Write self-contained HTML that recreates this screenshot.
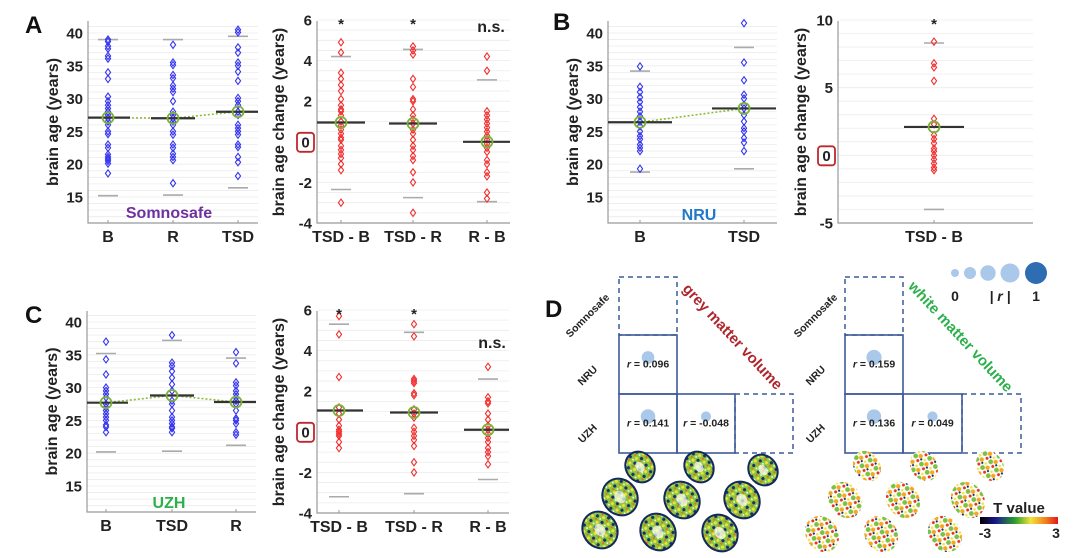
<!DOCTYPE html>
<html><head><meta charset="utf-8"><style>
body{margin:0;background:#fff;width:1080px;height:558px;overflow:hidden}
svg{display:block}
text{font-family:"Liberation Sans",Arial,sans-serif}
</style></head><body>
<svg id="fig" width="1080" height="558" viewBox="0 0 1080 558" xmlns="http://www.w3.org/2000/svg">
<defs>
<pattern id="gmPat" width="8" height="8" patternUnits="userSpaceOnUse">
<rect width="8" height="8" fill="#8cc63f"/>
<circle cx="2" cy="2" r="1.5" fill="#f2e33a"/><circle cx="6" cy="5" r="1.6" fill="#1a2f6e"/>
<circle cx="3" cy="6.5" r="1.1" fill="#e86a1c"/><circle cx="6.5" cy="1" r="0.9" fill="#ffffff"/>
</pattern>
<pattern id="wmPat" width="10" height="10" patternUnits="userSpaceOnUse">
<rect width="10" height="10" fill="#ffffff"/>
<circle cx="3" cy="3" r="2.4" fill="#7cc242"/><circle cx="7" cy="6" r="2.2" fill="#f5a623"/>
<circle cx="2" cy="8" r="1.5" fill="#e8331c"/><circle cx="8" cy="1.5" r="1.3" fill="#f2e33a"/>
<circle cx="5.5" cy="9" r="1.1" fill="#16306b"/>
</pattern>
<linearGradient id="tGrad" x1="0" x2="1" y1="0" y2="0">
<stop offset="0" stop-color="#000"/><stop offset="0.2" stop-color="#1a1a8c"/><stop offset="0.45" stop-color="#2ca02c"/>
<stop offset="0.65" stop-color="#f2e33a"/><stop offset="0.85" stop-color="#f07c1c"/><stop offset="1" stop-color="#e8141c"/>
</linearGradient>
</defs>
<g id="plots"></g>
<g id="panelD"></g>
</svg>
<script>
// ---------- DATA ----------
const catsA1 = ["B","R","TSD"];
const valsA1 = [
 [39,38.7,38,37.6,36.5,36.1,34,33,30.3,29.6,29,28.5,28,27.5,27,26.5,26,25,24.6,23,22.5,21.5,21.1,20.8,20.5,20.1,18.6],
 [38.2,35.5,35.1,33.6,33.1,32,31.5,31,29.6,28,27.5,27,26.5,26,25,24.5,23,22.5,21.6,21.1,20.6,17.1],
 [40.5,40.1,37.8,37,35.5,35,34.1,32.7,30.1,29.6,29,28,27.5,26,25.5,25,24.5,23,22.6,21.1,20.3,18.2]];
const meansA1 = [27.1,27.0,28.0];
const upperA1 = [39,39,39.5];
const lowerA1 = [15.2,15.3,16.4];

const catsA2 = ["TSD - B","TSD - R","R - B"];
const valsA2 = [
 [4.9,4.4,3.4,3.1,2.8,2.5,2.1,1.8,1.6,1.5,1.3,1.0,0.8,0.6,0.4,0.2,0.1,-0.2,-0.4,-0.6,-0.8,-1.1,-1.4,-3.0],
 [4.7,4.5,4.3,3.1,2.7,2.1,2.0,1.6,1.3,1.1,0.9,0.6,0.4,0.1,-0.2,-0.4,-0.7,-0.9,-1.5,-2.0,-3.5],
 [4.2,3.5,1.5,1.3,1.1,0.9,0.7,0.5,0.3,0.1,-0.1,-0.3,-0.5,-0.9,-1.1,-1.5,-1.7,-2.5,-2.8]];
const meansA2 = [0.95,0.9,0.0];
const upperA2 = [4.2,4.55,3.05];
const lowerA2 = [-2.35,-2.75,-2.95];
const sigA2 = ["*","*","n.s."];

const catsB1 = ["B","TSD"];
const valsB1 = [
 [34.9,31.8,31,30.2,29.5,28.7,28,27.3,26.5,25.8,25,24.3,23.8,23,22.5,22,19.3],
 [41.5,35.5,32.8,30.6,30,29,28.5,27.5,26.5,25.5,25,24,23.3,22]];
const meansB1 = [26.4,28.5];
const upperB1 = [34.2,37.8];
const lowerB1 = [18.8,19.3];

const catsB2 = ["TSD - B"];
const valsB2 = [[8.4,6.8,6.5,5.5,2.7,2.3,1.5,1.2,0.9,0.5,0.3,0,-0.3,-0.6,-0.9,-1.1]];
const meansB2 = [2.1];
const upperB2 = [8.3];
const lowerB2 = [-4.0];
const sigB2 = ["*"];

const catsC1 = ["B","TSD","R"];
const valsC1 = [
 [37,34.3,32,30,29.5,29,28.5,27.5,27,26.5,26,25.5,25,24.3,24,23.2],
 [38,33.8,33.3,32.5,31.5,30.5,29.5,28,27.5,26.5,25.5,25,24.5,24,23.8,23.2],
 [35.4,33.7,30.8,30.3,29.5,29,28.5,28,27.5,26.5,25.3,25,24.5,23.2,22.8]];
const meansC1 = [27.7,28.8,27.8];
const upperC1 = [35.2,37.2,34.5];
const lowerC1 = [20.2,20.3,21.2];

const catsC2 = ["TSD - B","TSD - R","R - B"];
const valsC2 = [
 [5.7,4.8,2.7,1.2,0.9,0.6,0.3,0.1,0,-0.1,-0.2,-0.5,-0.8],
 [5.3,4.7,2.6,2.5,2.4,1.9,1.8,1.1,0.9,0.7,0.2,0,-0.2,-0.4,-0.7,-1.5,-2.0],
 [3.2,1.7,1.5,1.4,0.9,0.6,0.3,0.1,-0.1,-0.3,-0.5,-0.8,-1.0,-1.2,-1.6]];
const meansC2 = [1.05,0.95,0.1];
const upperC2 = [5.3,4.9,2.6];
const lowerC2 = [-3.2,-3.05,-2.35];
const sigC2 = ["*","*","n.s."];

const corrLabels = ["Somnosafe","NRU","UZH"];
const gmCorr = [0.096,0.141,-0.048];
const wmCorr = [0.159,0.136,0.049];
const legendR = [0.05,0.2,0.4,0.7,1];

// ---------- HELPERS ----------
const NS="http://www.w3.org/2000/svg";
function mk(tag,attrs,parent){const e=document.createElementNS(NS,tag);for(const k in attrs)e.setAttribute(k,attrs[k]);parent.appendChild(e);return e;}
function txt(str,attrs,parent){const e=mk("text",attrs,parent);e.textContent=str;return e;}
const root=document.getElementById("plots");

function panel(cfg){
  const g=mk("g",{},root);
  
  
  const y=v=>cfg.y0px+(v-cfg.v0)*(cfg.y1px-cfg.y0px)/(cfg.v1-cfg.v0);
  const x=i=>cfg.catX[i];
  for(let v=cfg.gmin; v<=cfg.gmax+1e-9; v+=cfg.gstep){
    mk("line",{x1:cfg.L,x2:cfg.R,y1:y(v),y2:y(v),stroke:"#ececec","stroke-width":0.8},g);
  }
  const ax=mk("path",{d:`M${cfg.L},${cfg.T}V${cfg.B}H${cfg.R}`,fill:"none",stroke:"#999","stroke-width":1.2},g);
  
  
  cfg.ticks.forEach(t=>{
    const tl=txt(String(t),{x:cfg.L-5,y:y(t)+5.5,"text-anchor":"end","font-size":15,"font-weight":"bold",fill:"#222"},g);
    
    
  });
  const yl=txt(cfg.ylabel,{transform:`translate(${cfg.ylx},${(cfg.T+cfg.B)/2}) rotate(-90)`,"text-anchor":"middle","font-size":16,"font-weight":"bold",fill:"#222"},g);
  
  
  if(cfg.zeroBox){
    const zb=mk("rect",{x:cfg.L-20,y:y(0)-9,width:17,height:19,rx:3,fill:"#fff",stroke:"#c0272d","stroke-width":1.8},g);
    
    
    txt("0",{x:cfg.L-11.5,y:y(0)+5.5,"text-anchor":"middle","font-size":15,"font-weight":"bold",fill:"#222"},g);
  }
  if(cfg.connect){
    let d="";cfg.means.forEach((m,i)=>{d+=(i?"L":"M")+x(i)+","+y(m);});
    const c=mk("path",{d:d,fill:"none",stroke:"#8dbb3a","stroke-width":1.6,"stroke-dasharray":"2,2"},g);
    
    
  }
  cfg.cats.forEach((c,i)=>{
    const cx=x(i);
    mk("line",{x1:cx,x2:cx,y1:cfg.B,y2:cfg.B-3,stroke:"#999"},g);
    const cl=txt(c,{x:cx,y:cfg.B+19,"text-anchor":"middle","font-size":16,"font-weight":"bold",fill:"#222"},g);
    
    
    [cfg.upper[i],cfg.lower[i]].forEach(v=>{
      const r=mk("line",{x1:cx-10,x2:cx+10,y1:y(v),y2:y(v),stroke:"#aaa","stroke-width":1.6},g);
      
      
    });
    cfg.vals[i].forEach(v=>{
      const py=y(v);
      const p=mk("path",{d:`M${cx},${py-3.6}L${cx+2.6},${py}L${cx},${py+3.6}L${cx-2.6},${py}Z`,fill:"none",stroke:cfg.color,"stroke-width":1.1},g);
      
      
    });
    const ml=mk("line",{x1:Math.max(cfg.L,cx-cfg.mw),x2:Math.min(cfg.R,cx+cfg.mw),y1:y(cfg.means[i]),y2:y(cfg.means[i]),stroke:"#333","stroke-width":2.2},g);
    
    
    const mc=mk("circle",{cx:cx,cy:y(cfg.means[i]),r:5.5,fill:"none",stroke:"#7bb33a","stroke-width":1.8},g);
    
    
    if(cfg.sig){
      const s=cfg.sig[i];
      const st=txt(s,{x:cx+(s==="*"?0:4),y:(s==="*"?cfg.T+8:cfg.sigY),"text-anchor":"middle","font-size":s==="*"?15:16,"font-weight":"bold",fill:"#222"},g);
      
      
    }
  });
  if(cfg.site){
    const st=txt(cfg.site,{x:cfg.siteX,y:cfg.siteY,"text-anchor":"middle","font-size":16,"font-weight":"bold",fill:cfg.siteColor},g);
    
    
  }
}
const BA="brain age (years)", BC="brain age change (years)";
panel({name:"panel-a-brain-age",L:88,R:258,T:21,B:223,v0:40,y0px:33,v1:15,y1px:197,gmin:12,gmax:41,gstep:1,ticks:[15,20,25,30,35,40],ylabel:BA,ylx:58,cats:catsA1,catX:[108,173,238],vals:valsA1,means:meansA1,upper:upperA1,lower:lowerA1,color:"#3535f0",mw:22,connect:true,site:"Somnosafe",siteX:169,siteY:218,siteColor:"#7030a0"});
panel({name:"panel-a-brain-age-change",L:317,R:510,T:21,B:223,v0:6,y0px:20,v1:-4,y1px:223,gmin:-4,gmax:6,gstep:0.5,ticks:[-4,-2,2,4,6],ylabel:BC,ylx:284,zeroBox:true,cats:catsA2,catX:[341,413,487],vals:valsA2,means:meansA2,upper:upperA2,lower:lowerA2,color:"#f03030",mw:24,sig:sigA2,sigY:32});
panel({name:"panel-b-brain-age",L:608,R:777,T:21,B:223,v0:40,y0px:33,v1:15,y1px:197,gmin:12,gmax:41,gstep:1,ticks:[15,20,25,30,35,40],ylabel:BA,ylx:578,cats:catsB1,catX:[640,744],vals:valsB1,means:meansB1,upper:upperB1,lower:lowerB1,color:"#3535f0",mw:32,connect:true,site:"NRU",siteX:699,siteY:220,siteColor:"#1f78c8"});
panel({name:"panel-b-brain-age-change",L:838,R:1033,T:21,B:223,v0:10,y0px:20,v1:-5,y1px:223,gmin:-5,gmax:10,gstep:1,ticks:[-5,5,10],ylabel:BC,ylx:806,zeroBox:true,cats:catsB2,catX:[934],vals:valsB2,means:meansB2,upper:upperB2,lower:lowerB2,color:"#f03030",mw:30,sig:sigB2,sigY:30});
panel({name:"panel-c-brain-age",L:87,R:256,T:311,B:512,v0:40,y0px:322,v1:15,y1px:486,gmin:12,gmax:41,gstep:1,ticks:[15,20,25,30,35,40],ylabel:BA,ylx:57,cats:catsC1,catX:[106,172,236],vals:valsC1,means:meansC1,upper:upperC1,lower:lowerC1,color:"#3535f0",mw:22,connect:true,site:"UZH",siteX:169,siteY:508,siteColor:"#2db04b"});
panel({name:"panel-c-brain-age-change",L:317,R:509,T:311,B:513,v0:6,y0px:310,v1:-4,y1px:513,gmin:-4,gmax:6,gstep:0.5,ticks:[-4,-2,2,4,6],ylabel:BC,ylx:284,zeroBox:true,cats:catsC2,catX:[339,414,488],vals:valsC2,means:meansC2,upper:upperC2,lower:lowerC2,color:"#f03030",mw:24,sig:sigC2,sigY:348});

[["A",25,33],["B",553,30],["C",25,323],["D",545,317]].forEach(p=>{
  const t=txt(p[0],{x:p[1],y:p[2],"font-size":24,"font-weight":"bold",fill:"#111"},root);
  
  
});

// ---------- PANEL D ----------
const D=document.getElementById("panelD");
function matrix(x0,cols,corr,title,titleColor,tx,ty){
  const rows=[277,335,394,453];
  const blue="#3c5a9a";
  const dash={fill:"none",stroke:blue,"stroke-width":1.5,"stroke-dasharray":"5,4"};
  const solid={fill:"none",stroke:blue,"stroke-width":1.6};
  const b1=mk("rect",Object.assign({x:cols[0],y:rows[0],width:cols[1]-cols[0],height:rows[1]-rows[0]},dash),D);
  
  
  const b4=mk("rect",Object.assign({x:cols[2],y:rows[2],width:cols[3]-cols[2],height:rows[3]-rows[2]},dash),D);
  
  
  const cells=[[0,1],[0,2],[1,2]];
  cells.forEach((c,k)=>{
    const cx=(cols[c[0]]+cols[c[0]+1])/2, cy=rows[c[1]], h=rows[c[1]+1]-rows[c[1]];
    const r=mk("rect",Object.assign({x:cols[c[0]],y:cy,width:cols[c[0]+1]-cols[c[0]],height:h},solid),D);
    
    
    const rad=2+Math.sqrt(Math.abs(corr[k]))*14;
    const ci=mk("circle",{cx:cx,cy:cy+h/2-7,r:rad,fill:"#a9c8ea"},D);
    
    
    const t=mk("text",{x:cx,y:cy+h/2+3,"text-anchor":"middle","font-size":10.5,"font-weight":"bold",fill:"#222"},D);
    
    
    const i1=document.createElementNS(NS,"tspan");i1.setAttribute("font-style","italic");i1.textContent="r";t.appendChild(i1);
    t.appendChild(document.createTextNode(" = "+corr[k].toFixed(3)));
  });
  corrLabels.forEach((l,i)=>{
    const t=txt(l,{transform:`translate(${x0},${[318,378,436][i]}) rotate(-45)`,"text-anchor":"middle","font-size":10.5,"font-weight":"bold",fill:"#222"},D);
    
    
  });
  const tt=txt(title,{transform:`translate(${tx},${ty}) rotate(47)`,"text-anchor":"middle","font-size":15,"font-weight":"bold",fill:titleColor},D);
  
  
}
matrix(590,[619,677,735,793],gmCorr,"grey matter volume","#b0242c",729,340);
matrix(818,[845,903,962,1021],wmCorr,"white matter volume","#2db04b",957,340);

legendR.forEach((v,i)=>{
  const c=mk("circle",{cx:[955,970,988,1010,1036][i],cy:273,r:2+Math.sqrt(v)*9,fill:i===4?"#2f6db3":"#a9c8ea"},D);
  
  
});
[["0",955],["| r |",1000],["1",1036]].forEach(p=>{
  const t=txt(p[0],{x:p[1],y:301,"text-anchor":"middle","font-size":14,"font-weight":"bold",fill:"#222","font-style":p[0]==="0"||p[0]==="1"?"normal":"italic"},D);
  
  
});

const gmBrains=[[640,467,14,16],[620,497,17,19],[600,530,17,19],[699,467,14,16],[682,500,17,19],[658,532,17,19],[763,470,14,16],[742,500,17,19],[720,533,17,19]];
const wmBrains=[[867,466,13,16],[845,500,16,19],[822,534,16,19],[924,466,13,16],[903,500,16,19],[881,534,16,19],[990,466,13,16],[968,500,16,19],[945,534,16,19]];
gmBrains.forEach(b=>{
  const e=mk("ellipse",{cx:b[0],cy:b[1],rx:b[2],ry:b[3],fill:"url(#gmPat)",stroke:"#13285e","stroke-width":2,transform:`rotate(-35 ${b[0]} ${b[1]})`},D);
  
  
  mk("ellipse",{cx:b[0],cy:b[1],rx:b[2]*0.3,ry:b[3]*0.35,fill:"#fff",opacity:0.7,transform:`rotate(-35 ${b[0]} ${b[1]})`},D);
});
wmBrains.forEach(b=>{
  const e=mk("ellipse",{cx:b[0],cy:b[1],rx:b[2],ry:b[3],fill:"url(#wmPat)",stroke:"none",transform:`rotate(-35 ${b[0]} ${b[1]})`},D);
  
  
});
const cb=mk("rect",{x:980,y:517,width:78,height:7,fill:"url(#tGrad)"},D);


[["T value",1019,513,15],["-3",985,538,14],["3",1056,538,14]].forEach(p=>{
  const t=txt(p[0],{x:p[1],y:p[2],"text-anchor":"middle","font-size":p[3],"font-weight":"bold",fill:"#222"},D);
  
  
});
</script>
</body></html>
